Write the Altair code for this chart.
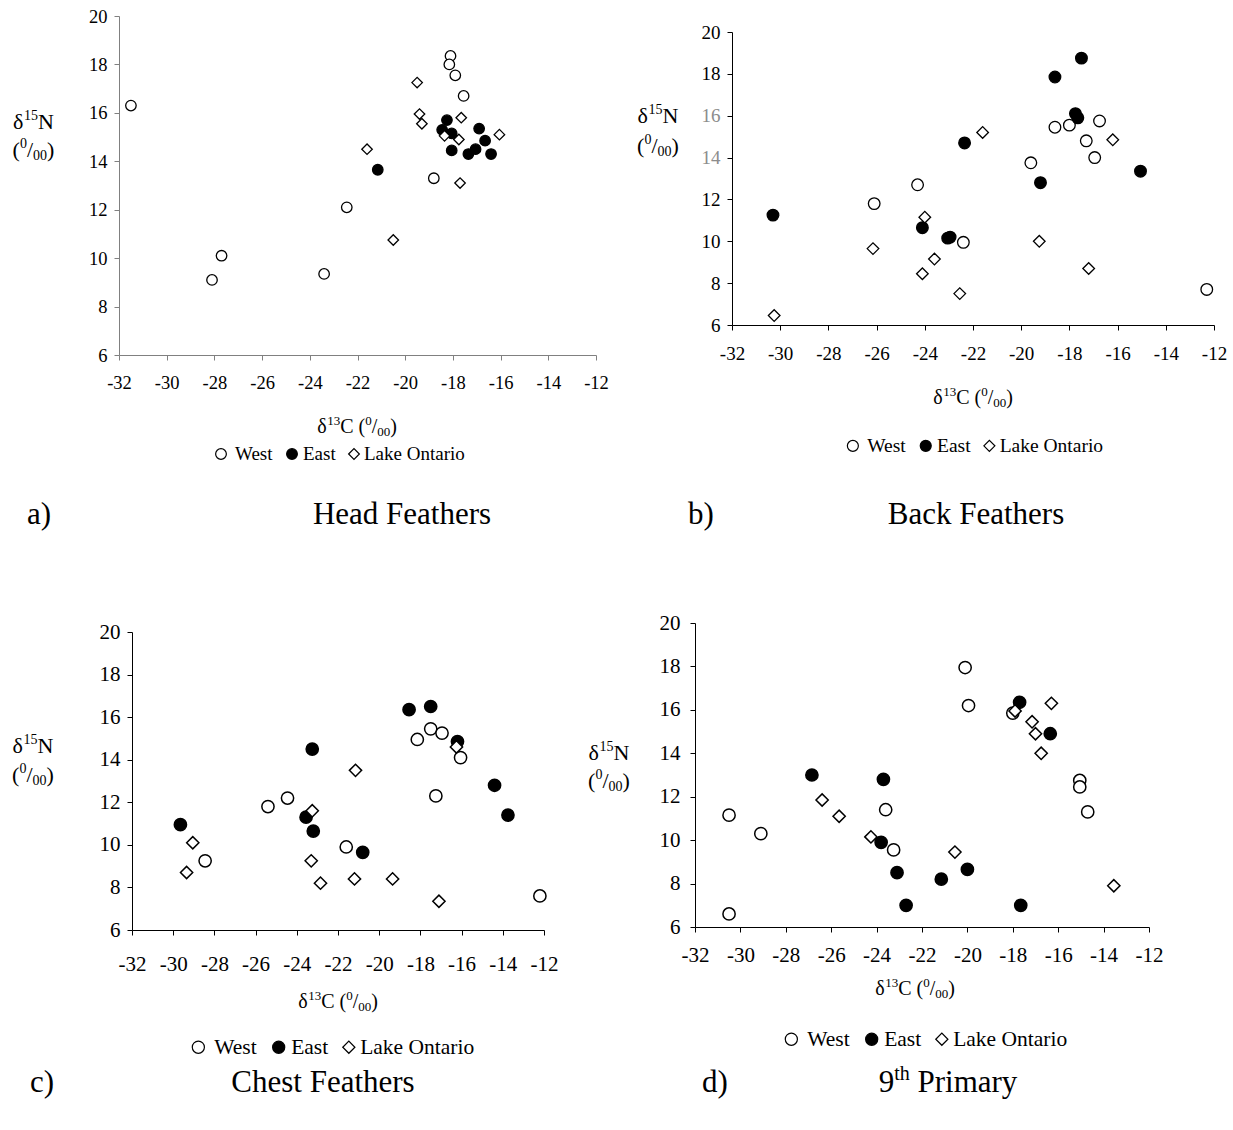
import altair as alt
import pandas as pd

GROUPS = ["West", "East", "Lake Ontario"]
XTICKS = list(range(-32, -11, 2))
YTICKS = list(range(6, 21, 2))

# ---------------- data ----------------
# a) Head Feathers
a_west_x = [-31.5, -28.1, -27.7, -23.4, -22.45, -18.8, -18.1, -18.15, -17.9, -17.55]
a_west_y = [16.3, 9.1, 10.1, 9.35, 12.1, 13.3, 18.35, 18.0, 17.55, 16.7]
a_east_x = [-21.15, -18.25, -18.45, -18.05, -18.05, -17.35, -17.05, -16.9, -16.65, -16.4]
a_east_y = [13.65, 15.7, 15.3, 15.15, 14.45, 14.3, 14.5, 15.35, 14.85, 14.3]
a_lake_x = [-21.6, -20.5, -19.5, -19.4, -19.3, -18.35, -17.75, -17.65, -17.7, -16.05]
a_lake_y = [14.5, 10.75, 17.25, 15.95, 15.55, 15.05, 14.9, 15.8, 13.1, 15.1]

# b) Back Feathers
b_west_x = [-26.1, -24.3, -22.4, -19.6, -18.6, -18.0, -17.3, -16.75, -16.95, -12.3]
b_west_y = [11.8, 12.7, 9.95, 13.75, 15.45, 15.55, 14.8, 15.75, 14.0, 7.7]
b_east_x = [-30.3, -24.1, -23.05, -22.95, -22.35, -19.2, -18.6, -17.75, -17.65, -17.5, -15.05]
b_east_y = [11.25, 10.65, 10.15, 10.2, 14.7, 12.8, 17.85, 16.1, 15.9, 18.75, 13.35]
b_lake_x = [-30.25, -26.15, -24.0, -24.1, -23.6, -22.55, -21.6, -19.25, -17.2, -16.2]
b_lake_y = [6.45, 9.65, 11.15, 8.45, 9.15, 7.5, 15.2, 10.0, 8.7, 14.85]

# c) Chest Feathers
c_west_x = [-28.45, -25.4, -24.45, -21.6, -18.15, -17.5, -16.95, -17.25, -16.05, -12.2]
c_west_y = [9.25, 11.8, 12.2, 9.9, 14.95, 15.45, 15.25, 12.3, 14.1, 7.6]
c_east_x = [-29.65, -23.25, -23.55, -23.2, -20.8, -18.55, -17.5, -16.2, -14.4, -13.75]
c_east_y = [10.95, 14.5, 11.3, 10.65, 9.65, 16.35, 16.5, 14.85, 12.8, 11.4]
c_lake_x = [-29.05, -29.35, -23.25, -23.3, -22.85, -21.15, -21.2, -19.35, -17.1, -16.25]
c_lake_y = [10.1, 8.7, 11.6, 9.25, 8.2, 13.5, 8.4, 8.4, 7.35, 14.6]

# d) 9th Primary
d_west_x = [-30.5, -30.5, -29.1, -23.6, -23.25, -20.1, -19.95, -18.0, -15.05, -15.05, -14.7]
d_west_y = [11.15, 6.6, 10.3, 11.4, 9.55, 17.95, 16.2, 15.85, 12.75, 12.45, 11.3]
d_east_x = [-26.85, -23.8, -23.7, -23.1, -22.7, -21.15, -20.0, -17.7, -17.65, -16.35]
d_east_y = [13.0, 9.9, 12.8, 8.5, 7.0, 8.2, 8.65, 16.35, 7.0, 14.9]
d_lake_x = [-26.4, -25.65, -24.25, -20.55, -17.9, -17.15, -17.0, -16.75, -16.3, -13.55]
d_lake_y = [11.85, 11.1, 10.15, 9.45, 15.95, 15.45, 14.9, 14.0, 16.3, 7.9]

panel_titles = ["Head Feathers", "Back Feathers", "Chest Feathers", "Primary"]
panel_letters = ["a)", "b)", "c)", "d)"]
legend_labels = ["West", "East", "Lake Ontario"]

# ---------------- layout ----------------
W, H = 1233, 1130
FONT = "Liberation Serif"

TW = {'δ': 0.5, 'N': 0.722, 'C': 0.667, '(': 0.333, ')': 0.333, '/': 0.278, ' ': 0.25,
      'W': 0.944, 'e': 0.444, 's': 0.389, 't': 0.278, 'E': 0.611, 'a': 0.444, 'L': 0.611,
      'k': 0.5, 'O': 0.722, 'n': 0.5, 'r': 0.333, 'i': 0.278, 'o': 0.5, 'H': 0.722,
      'd': 0.5, 'F': 0.556, 'h': 0.5, 'B': 0.667, 'c': 0.444, 'P': 0.556, 'm': 0.778,
      'y': 0.5}


def tw(t, fs):
    return sum(TW.get(ch, 0.5) for ch in t) * fs


def run(pieces, x, base, center=True):
    total = sum(tw(t, fs) for t, fs, dy in pieces)
    cx = x - total / 2 if center else x
    rows = []
    for t, fs, dy in pieces:
        if t.strip():
            rows.append({"tx": cx, "ty": base + dy, "t": t, "fs": fs})
        cx += tw(t, fs)
    return rows


def df_of(wx, wy, ex, ey, lx, ly):
    rows = []
    for g, xs, ys in ((GROUPS[0], wx, wy), (GROUPS[1], ex, ey), (GROUPS[2], lx, ly)):
        for xv, yv in zip(xs, ys):
            rows.append({"d13C": xv, "d15N": yv, "site": g})
    return pd.DataFrame(rows)


panels = [
    dict(df=df_of(a_west_x, a_west_y, a_east_x, a_east_y, a_lake_x, a_lake_y),
         xr=[119, 596], yr=[355, 16], axc="#808080", lfs=18.5, xpad=13, ypad=7,
         ms=110, sw=1.3, grey=False,
         yt=(33.5, 129, 157), xt=(357, 433), lg=(340, 460, 19), sub=(27, 402, 524)),
    dict(df=df_of(b_west_x, b_west_y, b_east_x, b_east_y, b_lake_x, b_lake_y),
         xr=[732, 1214], yr=[325, 32], axc="black", lfs=19, xpad=14, ypad=7,
         ms=135, sw=1.3, grey=True,
         yt=(658, 123, 153), xt=(973, 404), lg=(975, 452, 19.5), sub=(688, 976, 524)),
    dict(df=df_of(c_west_x, c_west_y, c_east_x, c_east_y, c_lake_x, c_lake_y),
         xr=[132, 544], yr=[930, 632], axc="black", lfs=21, xpad=18, ypad=7,
         ms=150, sw=1.5, grey=False,
         yt=(33, 753, 782), xt=(338, 1008), lg=(333, 1054, 21.5), sub=(30, 323, 1092)),
    dict(df=df_of(d_west_x, d_west_y, d_east_x, d_east_y, d_lake_x, d_lake_y),
         xr=[695, 1149], yr=[927, 623], axc="black", lfs=21, xpad=12, ypad=10,
         ms=150, sw=1.5, grey=False,
         yt=(609, 760, 788), xt=(915, 995), lg=(926, 1046, 21.5), sub=(702, 948, 1092)),
]

layers = []
text_rows = []
sym_rows = []

for i, p in enumerate(panels):
    if p["grey"]:
        ycol = {"condition": {"test": "datum.value == 14 || datum.value == 16", "value": "#8c8c8c"},
                "value": "black"}
    else:
        ycol = "black"
    common = dict(domainColor=p["axc"], tickColor=p["axc"], tickSize=5, tickWidth=1, domainWidth=1,
                  grid=False, title=None, labelFont=FONT, labelFontSize=p["lfs"],
                  labelFlush=False, labelOverlap=False, labelExpr="datum.value + ''")
    x_axis = alt.Axis(orient="bottom", offset=p["yr"][0] - H, values=XTICKS,
                      labelPadding=p["xpad"], labelColor="black", **common)
    y_axis = alt.Axis(orient="left", offset=-p["xr"][0], values=YTICKS,
                      labelPadding=p["ypad"], labelColor=ycol, **common)
    layer = alt.Chart(p["df"]).mark_point(
        filled=True, opacity=1, stroke="black", strokeWidth=p["sw"], size=p["ms"]
    ).encode(
        x=alt.X("d13C:Q", scale=alt.Scale(domain=[-32, -12], range=p["xr"], nice=False, zero=False),
                axis=x_axis),
        y=alt.Y("d15N:Q", scale=alt.Scale(domain=[6, 20], range=p["yr"], nice=False, zero=False),
                axis=y_axis),
        shape=alt.Shape("site:N", scale=alt.Scale(domain=GROUPS, range=["circle", "circle", "diamond"]),
                        legend=None),
        fill=alt.Fill("site:N", scale=alt.Scale(domain=GROUPS, range=["white", "black", "white"]),
                      legend=None),
    )
    layers.append(layer)

    # y title  δ15N  (0/00)
    cx, b1, b2 = p["yt"]
    text_rows += run([("δ", 22, 0), ("15", 14, -9), ("N", 22, 0)], cx, b1)
    text_rows += run([("(", 22, 0), ("0", 14, -9), ("/", 22, 0), ("00", 14, 3), (")", 22, 0)], cx, b2)

    # x title  δ13C (0/00)
    cx, b = p["xt"]
    text_rows += run([("δ", 20, 0), ("13", 13, -8), ("C", 20, 0), (" ", 20, 0), ("(", 20, 0),
                      ("0", 13, -8), ("/", 20, 0), ("00", 13, 3), (")", 20, 0)], cx, b)

    # legend
    cx, b, fs = p["lg"]
    s = fs / 19.0
    left = cx - 125 * s
    for k, (soff, toff) in enumerate(((6, 20), (77, 88), (139, 149))):
        sym_rows.append({"sx": left + soff * s, "sy": b - 6 * s,
                         "shp": ["circle", "circle", "diamond"][k],
                         "fc": ["white", "black", "white"][k], "ss": 115 * s * s})
        text_rows.append({"tx": left + toff * s, "ty": b, "t": legend_labels[k], "fs": fs})

    # panel letter and title
    lx, tcx, tb = p["sub"]
    text_rows.append({"tx": lx, "ty": tb, "t": panel_letters[i], "fs": 31})
    if i == 3:
        text_rows += run([("9", 31, 0), ("th", 20, -12), (" ", 31, 0), (panel_titles[i], 31, 0)], tcx, tb)
    else:
        text_rows += run([(panel_titles[i], 31, 0)], tcx, tb)

texts = alt.Chart(pd.DataFrame(text_rows)).mark_text(
    align="left", baseline="alphabetic", font=FONT, color="black"
).encode(
    x=alt.X("tx:Q", scale=None, axis=None),
    y=alt.Y("ty:Q", scale=None, axis=None),
    text="t:N",
    size=alt.Size("fs:Q", scale=None, legend=None),
)

syms = alt.Chart(pd.DataFrame(sym_rows)).mark_point(
    filled=True, opacity=1, stroke="black", strokeWidth=1.2
).encode(
    x=alt.X("sx:Q", scale=None, axis=None),
    y=alt.Y("sy:Q", scale=None, axis=None),
    shape=alt.Shape("shp:N", scale=None, legend=None),
    fill=alt.Fill("fc:N", scale=None, legend=None),
    size=alt.Size("ss:Q", scale=None, legend=None),
)

chart = alt.layer(*layers, texts, syms).resolve_scale(
    x="independent", y="independent", shape="independent", fill="independent", size="independent"
).properties(
    width=W, height=H, padding=0, autosize=alt.AutoSizeParams(type="none"), background="white"
).configure_view(stroke=None)

chart.save("out.html", embed_options={"renderer": "svg", "actions": False})
